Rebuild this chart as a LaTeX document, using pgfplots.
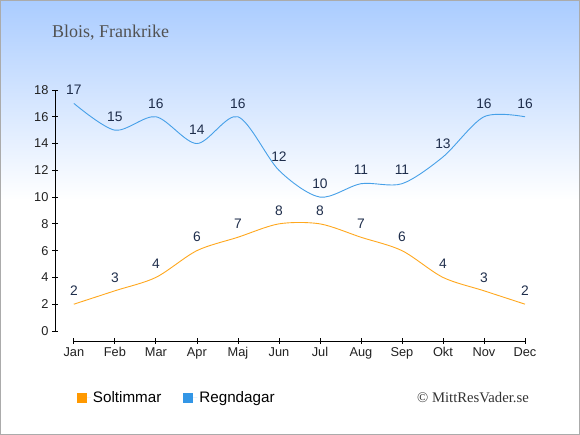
\documentclass[border=0pt]{standalone}
\usepackage{pgfplots}
\pgfplotsset{compat=1.18}
\usepackage{fontspec}
\setmainfont{Liberation Sans}
\newfontfamily\serif{Liberation Serif}
\definecolor{bluel}{RGB}{70,160,232}
\definecolor{orangel}{RGB}{255,168,30}
\definecolor{bluesq}{RGB}{51,150,230}
\definecolor{orangesq}{RGB}{255,153,0}
\definecolor{lbl}{RGB}{30,45,75}
\definecolor{bgtop}{RGB}{170,204,255}
\begin{document}
\begin{tikzpicture}
\useasboundingbox (0pt,0pt) rectangle (580pt,435pt);
\fill[white] (0pt,0pt) rectangle (580pt,435pt);
\shade[top color=bgtop, bottom color=white] (0pt,235pt) rectangle (580pt,435pt);
\node[anchor=base west, inner sep=0pt, font=\serif\fontsize{18}{20}\selectfont, text=black!68] at (52pt,397.3pt) {Blois, Frankrike};
\node[anchor=base east, inner sep=0pt, font=\serif\fontsize{14.7}{16}\selectfont, text=black!80] at (529pt,32pt) {\textcopyright\ MittResVader.se};
\begin{axis}[
  at={(55pt,94pt)}, anchor=south west,
  scale only axis, width=470pt, height=251pt,
  xmin=-0.46, xmax=11, ymin=-0.75, ymax=18,
  clip=false,
  axis x line*=bottom, axis y line*=left,
  axis line style={draw=none},
  xtick={0,...,11},
  xticklabels={Jan,Feb,Mar,Apr,Maj,Jun,Jul,Aug,Sep,Okt,Nov,Dec},
  ytick={0,2,...,18},
  tick align=center,
  major tick length=6pt,
  tick style={black, line width=0.8pt},
  ticklabel style={font=\fontsize{12.8}{14}\selectfont, text=black!87},
  /pgf/number format/assume math mode=true,
  nodes near coords,
  every node near coord/.append style={anchor=center, yshift=13.5pt, font=\fontsize{13.8}{15}\selectfont, text=lbl},
  legend image code/.code={\fill[#1] (0pt,-5pt) rectangle (10pt,5pt); \path (0pt,0pt) -- (14pt,0pt);},
  legend style={at={(0.04,-0.227)}, anchor=west, draw=none, fill=none, legend columns=2,
    font=\fontsize{15.2}{17}\selectfont, /tikz/every even column/.append style={column sep=20pt}},
]
\draw[black, line width=0.9pt] (axis cs:-0.46,0) -- (axis cs:-0.46,18);
\draw[black, line width=0.9pt] (axis cs:0,-0.75) -- (axis cs:11,-0.75);
\addplot[orangel, line width=0.9pt, smooth, forget plot] coordinates {(0,2)(1,3)(2,4)(3,6)(4,7)(5,8)(6,8)(7,7)(8,6)(9,4)(10,3)(11,2)};
\addplot[bluel, line width=0.9pt, smooth, forget plot] coordinates {(0,17)(1,15)(2,16)(3,14)(4,16)(5,12)(6,10)(7,11)(8,11)(9,13)(10,16)(11,16)};
\addlegendimage{fill=orangesq, draw=none}
\addlegendentry{Soltimmar}
\addlegendimage{fill=bluesq, draw=none}
\addlegendentry{Regndagar}
\end{axis}
\draw[black!33, line width=1.2pt] (0.6pt,0.6pt) rectangle (579.4pt,434.4pt);
\end{tikzpicture}
\end{document}
